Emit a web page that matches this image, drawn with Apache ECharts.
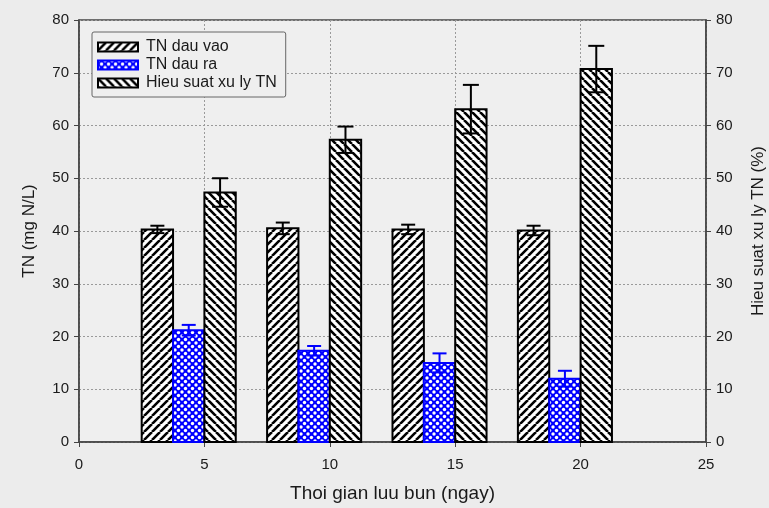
<!DOCTYPE html>
<html><head><meta charset="utf-8">
<script src="https://cdn.jsdelivr.net/npm/echarts@6/dist/echarts.min.js"></script>
<style>html,body{margin:0;padding:0;background:#ececec}#c{width:769px;height:508px}</style>
</head><body><div id="c"></div>
<script>
// ---- data ----
const groups   = [5, 10, 15, 20];
const tnIn     = [40.3, 40.5, 40.3, 40.1];
const tnInErr  = [0.7, 1.1, 0.9, 0.9];
const tnOut    = [21.2, 17.3, 15.0, 12.0];
const tnOutErr = [1.0, 0.9, 1.8, 1.5];
const eff      = [47.3, 57.3, 63.1, 70.7];
const effErr   = [2.7, 2.5, 4.6, 4.4];
const seriesNames = ['TN dau vao', 'TN dau ra', 'Hieu suat xu ly TN'];
const xTickLabels = ['0', '5', '10', '15', '20', '25'];
const yTickLabels = ['0', '10', '20', '30', '40', '50', '60', '70', '80'];

const FONT = '"Liberation Sans", Arial, sans-serif';

function hatch(forward) {
  const s = 8, c = document.createElement('canvas');
  c.width = c.height = s;
  const x = c.getContext('2d');
  x.fillStyle = '#ffffff'; x.fillRect(0, 0, s, s);
  x.strokeStyle = '#000000'; x.lineWidth = 2.6;
  x.beginPath();
  for (const k of [-s, 0, s]) {
    if (forward) { x.moveTo(k, s); x.lineTo(k + s, 0); }
    else { x.moveTo(k, 0); x.lineTo(k + s, s); }
  }
  x.stroke();
  return { image: c, repeat: 'repeat' };
}
function dots() {
  const s = 7, c = document.createElement('canvas');
  c.width = c.height = s;
  const x = c.getContext('2d');
  x.fillStyle = '#0000ff'; x.fillRect(0, 0, s, s);
  x.fillStyle = '#ffffff';
  for (const p of [[0,0],[s,0],[0,s],[s,s],[s/2,s/2]]) {
    x.beginPath(); x.arc(p[0], p[1], 1.7, 0, Math.PI*2); x.fill();
  }
  return { image: c, repeat: 'repeat' };
}
const patIn = hatch(true), patOut = dots(), patEff = hatch(false);

function makeRender(x0, x1, fill, stroke, capHalf) {
  return function (params, api) {
    const g = api.value(0), v = api.value(1), e = api.value(2);
    const bl = api.coord([g + x0, 0]);
    const tr = api.coord([g + x1, v]);
    const cx = (bl[0] + tr[0]) / 2;
    const top = api.coord([g, v + e])[1], bot = api.coord([g, v - e])[1];
    const ls = { stroke: stroke, lineWidth: 2 };
    return { type: 'group', children: [
      { type: 'rect', shape: { x: bl[0], y: tr[1], width: tr[0] - bl[0], height: bl[1] - tr[1] },
        style: { fill: fill, stroke: stroke, lineWidth: 2 } },
      { type: 'line', shape: { x1: cx, y1: top, x2: cx, y2: bot }, style: ls },
      { type: 'line', shape: { x1: cx - capHalf, y1: top, x2: cx + capHalf, y2: top }, style: ls },
      { type: 'line', shape: { x1: cx - capHalf, y1: bot, x2: cx + capHalf, y2: bot }, style: ls }
    ]};
  };
}

const zip = (a, b, c) => a.map((v, i) => [v, b[i], c[i]]);

const axisLabel = { fontSize: 15, color: '#1a1a1a', fontFamily: FONT };
const nameStyle = { fontSize: 17, color: '#1a1a1a', fontFamily: FONT };
const split = { show: true, lineStyle: { type: [2, 2], color: '#9a9a9a', width: 1 } };
const axLine = { show: true, lineStyle: { color: '#444', width: 1.5 } };

const chart = echarts.init(document.getElementById('c'), null, { renderer: 'canvas' });
chart.setOption({
  backgroundColor: '#ececec',
  animation: false,
  grid: { left: 79, right: 63, top: 20, bottom: 66, outerBoundsMode: 'none', containLabel: false,
          show: true, borderColor: '#444', borderWidth: 1.5, backgroundColor: '#efefef' },
  legend: {
    data: seriesNames, orient: 'vertical', left: 92, top: 32,
    itemWidth: 40, itemHeight: 9, itemGap: 2, icon: 'rect',
    padding: [7, 9, 6, 5], borderColor: '#666', borderWidth: 1, borderRadius: 2,
    backgroundColor: '#efefef',
    textStyle: { fontSize: 16, color: '#1a1a1a', fontFamily: FONT, padding: [0, 0, 0, 3] }
  },
  xAxis: {
    type: 'value', min: 0, max: 25, interval: 5,
    name: 'Thoi gian luu bun (ngay)', nameLocation: 'middle', nameGap: 42, nameTextStyle: { fontSize: 19, color: '#1a1a1a', fontFamily: FONT },
    axisLine: axLine, axisTick: { show: true, length: 5, lineStyle: { color: '#444' } },
    axisLabel: Object.assign({ margin: 15, formatter: v => xTickLabels[Math.round(v / 5)] }, axisLabel),
    splitLine: split
  },
  yAxis: [{
    type: 'value', min: 0, max: 80, interval: 10, position: 'left',
    name: 'TN (mg N/L)', nameLocation: 'middle', nameGap: 41, nameRotate: 90, nameTextStyle: nameStyle,
    axisLine: axLine, axisTick: { show: true, length: 5, lineStyle: { color: '#444' } },
    axisLabel: Object.assign({ margin: 10, formatter: v => yTickLabels[Math.round(v / 10)] }, axisLabel),
    splitLine: split
  }, {
    type: 'value', min: 0, max: 80, interval: 10, position: 'right',
    name: 'Hieu suat xu ly TN (%)', nameLocation: 'middle', nameGap: 44, nameRotate: 90, nameTextStyle: nameStyle,
    axisLine: axLine, axisTick: { show: true, length: 5, lineStyle: { color: '#444' } },
    axisLabel: Object.assign({ margin: 10, formatter: v => yTickLabels[Math.round(v / 10)] }, axisLabel),
    splitLine: { show: false }
  }],
  series: [
    { name: seriesNames[0], type: 'custom', yAxisIndex: 0, data: zip(groups, tnIn, tnInErr),
      itemStyle: { color: patIn, borderColor: '#000', borderWidth: 2 },
      renderItem: makeRender(-2.5, -1.25, patIn, '#000', 7), encode: { x: 0, y: 1 } },
    { name: seriesNames[1], type: 'custom', yAxisIndex: 0, data: zip(groups, tnOut, tnOutErr),
      itemStyle: { color: patOut, borderColor: '#0000ff', borderWidth: 2 },
      renderItem: makeRender(-1.25, 0, patOut, '#0000ff', 7), encode: { x: 0, y: 1 } },
    { name: seriesNames[2], type: 'custom', yAxisIndex: 1, data: zip(groups, eff, effErr),
      itemStyle: { color: patEff, borderColor: '#000', borderWidth: 2 },
      renderItem: makeRender(0, 1.25, patEff, '#000', 8), encode: { x: 0, y: 1 } }
  ]
});
</script>
</body></html>
